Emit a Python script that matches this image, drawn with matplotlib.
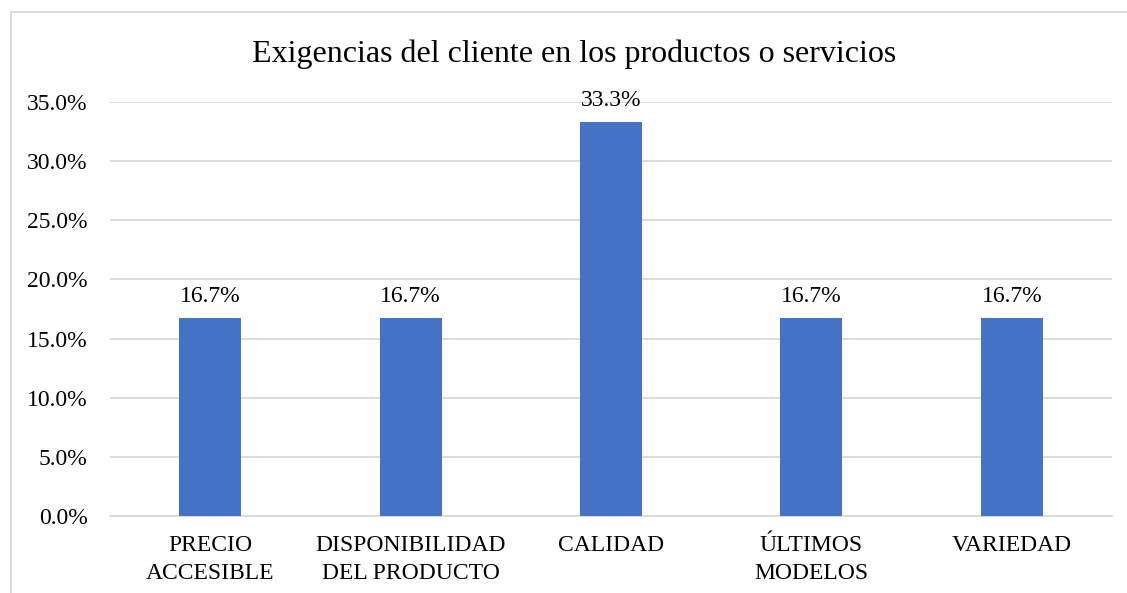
import matplotlib
matplotlib.use("Agg")
import matplotlib.pyplot as plt
from matplotlib.patches import Rectangle
from matplotlib.ticker import FuncFormatter

categories = ["PRECIO\nACCESIBLE", "DISPONIBILIDAD\nDEL PRODUCTO", "CALIDAD", "ÚLTIMOS\nMODELOS", "VARIEDAD"]
values = [16.7, 16.7, 33.3, 16.7, 16.7]
yticks = [0, 5, 10, 15, 20, 25, 30, 35]
title = "Exigencias del cliente en los productos o servicios"

plt.rcParams['font.family'] = ['Liberation Serif', 'DejaVu Serif']

W, H = 1127, 593
fig = plt.figure(figsize=(W / 100, H / 100), dpi=100)
fig.patch.set_facecolor("white")

# chart area border
fig.patches.append(Rectangle((11 / W, -0.1), 1.2, 1 - 12 / H + 0.1, transform=fig.transFigure,
                             fill=False, edgecolor="#d9d9d9", linewidth=1.3))

ax = fig.add_axes([110 / W, 1 - 516 / H, (1112 - 110) / W, (516 - 102) / H])
x = list(range(len(categories)))
bars = ax.bar(x, values, width=0.31, color="#4472C4", zorder=3)
ax.set_xlim(-0.5, len(categories) - 0.5)
ax.set_ylim(0, 35)
ax.set_yticks(yticks)
ax.yaxis.set_major_formatter(FuncFormatter(lambda v, p: f"{v:.1f}%"))
ax.grid(axis="y", color="#d9d9d9", linewidth=1.3, zorder=0)
for s in ["top", "right", "left"]:
    ax.spines[s].set_visible(False)
ax.spines["bottom"].set_color("#d9d9d9")
ax.spines["bottom"].set_linewidth(1.3)
ax.tick_params(axis="both", length=0, labelsize=17, colors="black")
ax.tick_params(axis="y", pad=16)
ax.tick_params(axis="x", pad=14)
ax.set_xticks(x)
ax.set_xticklabels(categories, linespacing=1.4)

for xi, v in zip(x, values):
    ax.annotate(f"{v:.1f}%", (xi, v), xytext=(0, 8), textcoords="offset points",
                ha="center", va="bottom", fontsize=17)

fig.text(574 / W, 1 - 61.7 / H, title, ha="center", va="baseline", fontsize=23)

fig.savefig("out.png", dpi=100)
